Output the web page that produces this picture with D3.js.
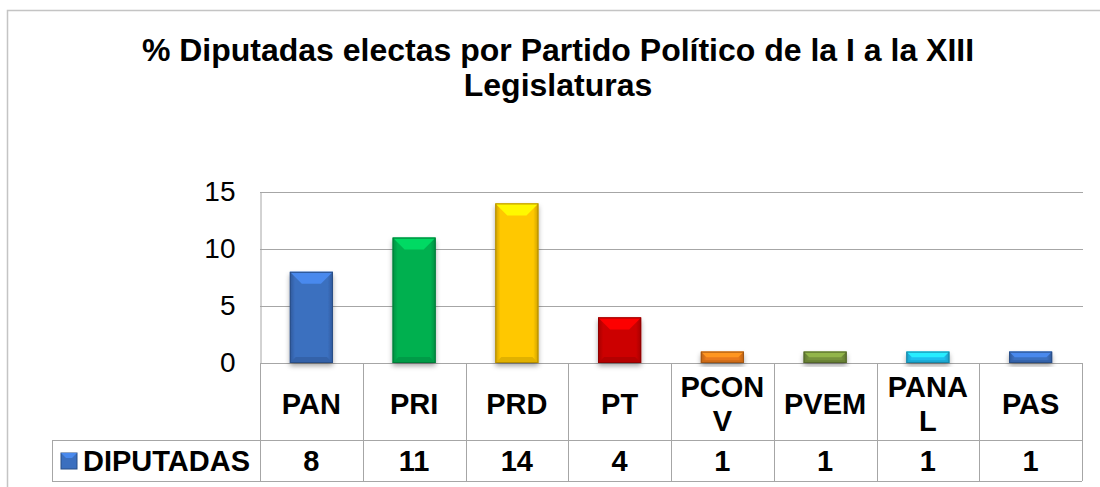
<!DOCTYPE html>
<html>
<head>
<meta charset="utf-8">
<script src="https://cdn.jsdelivr.net/npm/d3@7"></script>
<style>
  body { margin: 0; background: #fff; }
  text { font-family: "Liberation Sans", Arial, sans-serif; fill: #000; }
</style>
</head>
<body>
<div id="chart"></div>
<script>
// chart data
var parties = ['PAN', 'PRI', 'PRD', 'PT', 'PCONV', 'PVEM', 'PANAL', 'PAS'];
var partyLabels = [['PAN'], ['PRI'], ['PRD'], ['PT'], ['PCON', 'V'], ['PVEM'], ['PANA', 'L'], ['PAS']];
var diputadas = [8, 11, 14, 4, 1, 1, 1, 1];
var barColors = ['#3b6fbf', '#00b050', '#ffc800', '#cc0000', '#e8791a', '#76923c', '#1fbfee', '#3b6fbf'];
var yTicks = [0, 5, 10, 15];
var seriesName = 'DIPUTADAS';
var titleLines = ['% Diputadas electas por Partido Político de la I a la XIII', 'Legislaturas'];

var w = 1100, h = 487;
var plotLeft = 260, plotRight = 1082, plotTop = 192, zero = 363;
var catRowBottom = 440, tableBottom = 481, legendLeft = 52;

var svg = d3.select('#chart').append('svg')
  .attr('width', w).attr('height', h);

var defs = svg.append('defs');
var shadow = defs.append('filter').attr('id', 'shadow')
  .attr('x', '-30%').attr('y', '-30%').attr('width', '160%').attr('height', '160%');
shadow.append('feDropShadow').attr('dx', 0).attr('dy', 3).attr('stdDeviation', 2.5)
  .attr('flood-color', '#000').attr('flood-opacity', 0.35);

// outer frame
svg.append('rect')
  .attr('x', 7.5).attr('y', 10.5).attr('width', 1200).attr('height', 600)
  .attr('fill', 'none').attr('stroke', '#c4c4c4').attr('stroke-width', 1.5);

// title
svg.selectAll('.title').data(titleLines).enter().append('text')
  .attr('class', 'title')
  .attr('x', 558).attr('y', function(d, i) { return 61 + i * 35; })
  .attr('text-anchor', 'middle')
  .style('font-size', '32px').style('font-weight', 'bold')
  .text(function(d) { return d; });

// scales
var x = d3.scaleBand().domain(parties).range([plotLeft, plotRight]).paddingInner(0.58).paddingOuter(0.29);
var col = d3.scaleBand().domain(parties).range([plotLeft, plotRight]).padding(0);
var y = d3.scaleLinear().domain([0, 15]).range([zero, plotTop]);

// gridlines
svg.append('g').selectAll('line').data(yTicks).enter().append('line')
  .attr('x1', plotLeft).attr('x2', plotRight + 1)
  .attr('y1', function(d) { return Math.round(y(d)) + 0.5; })
  .attr('y2', function(d) { return Math.round(y(d)) + 0.5; })
  .attr('stroke', '#a6a6a6').attr('stroke-width', 1);

// y axis labels
var yAxis = svg.append('g')
  .attr('transform', 'translate(' + (plotLeft + 0.5) + ',0)')
  .call(d3.axisLeft(y).tickValues(yTicks).tickSize(0).tickPadding(25));
yAxis.select('.domain').attr('stroke', '#a6a6a6');
yAxis.selectAll('text').style('font-size', '28px')
  .style('font-family', '"Liberation Sans", Arial, sans-serif').attr('fill', '#000');

// bars with bevel
var bars = svg.append('g').selectAll('g').data(parties).enter().append('g');
bars.each(function(p, i) {
  var g = d3.select(this);
  var c = d3.color(barColors[i]);
  var x0 = x(p), bw = x.bandwidth();
  var y0 = y(diputadas[i]), bh = zero - y0;
  var bev = Math.min(12, bh / 2);
  var gid = 'grad' + i;
  var grad = defs.append('linearGradient').attr('id', gid)
    .attr('x1', 0).attr('y1', 0).attr('x2', 1).attr('y2', 0);
  grad.append('stop').attr('offset', '0%').attr('stop-color', c.darker(0.6));
  grad.append('stop').attr('offset', '12%').attr('stop-color', c);
  grad.append('stop').attr('offset', '88%').attr('stop-color', c);
  grad.append('stop').attr('offset', '100%').attr('stop-color', c.darker(0.6));
  g.append('rect')
    .attr('x', x0).attr('y', y0).attr('width', bw).attr('height', bh)
    .attr('fill', 'url(#' + gid + ')')
    .attr('filter', 'url(#shadow)');
  // top bevel
  g.append('path')
    .attr('d', 'M' + x0 + ',' + y0 + 'L' + (x0 + bw) + ',' + y0 +
      'L' + (x0 + bw - bev) + ',' + (y0 + bev) + 'L' + (x0 + bev) + ',' + (y0 + bev) + 'Z')
    .attr('fill', c.brighter(0.6));
  // bottom bevel
  g.append('path')
    .attr('d', 'M' + x0 + ',' + zero + 'L' + (x0 + bw) + ',' + zero +
      'L' + (x0 + bw - bev / 2) + ',' + (zero - bev / 2) + 'L' + (x0 + bev / 2) + ',' + (zero - bev / 2) + 'Z')
    .attr('fill', c.darker(0.35));
  g.append('rect')
    .attr('x', x0 + 0.5).attr('y', y0 + 0.5).attr('width', bw - 1).attr('height', bh - 1)
    .attr('fill', 'none').attr('stroke', c.darker(1)).attr('stroke-width', 1);
});

// data table
var table = svg.append('g').attr('stroke', '#a6a6a6').attr('stroke-width', 1);
var colEdges = parties.map(function(p) { return col(p); }).concat([plotRight]);
table.selectAll('.v').data(colEdges).enter().append('line')
  .attr('x1', function(d) { return Math.round(d) + 0.5; })
  .attr('x2', function(d) { return Math.round(d) + 0.5; })
  .attr('y1', zero).attr('y2', tableBottom);
table.append('line').attr('x1', legendLeft).attr('x2', plotRight)
  .attr('y1', catRowBottom + 0.5).attr('y2', catRowBottom + 0.5);
table.append('line').attr('x1', legendLeft).attr('x2', plotRight)
  .attr('y1', tableBottom + 0.5).attr('y2', tableBottom + 0.5);
table.append('line').attr('x1', legendLeft + 0.5).attr('x2', legendLeft + 0.5)
  .attr('y1', catRowBottom).attr('y2', tableBottom);

// category labels
var cats = svg.append('g').selectAll('text').data(parties).enter().append('text')
  .attr('text-anchor', 'middle')
  .style('font-size', '29px').style('font-weight', 'bold')
  .attr('x', function(d) { return col(d) + col.bandwidth() / 2; })
  .attr('y', function(d, i) { return partyLabels[i].length > 1 ? 397 : 414; });
cats.each(function(d, i) {
  var t = d3.select(this);
  partyLabels[i].forEach(function(line, j) {
    t.append('tspan').attr('x', t.attr('x')).attr('dy', j === 0 ? 0 : 34).text(line);
  });
});

// values row
svg.append('g').selectAll('text').data(parties).enter().append('text')
  .attr('text-anchor', 'middle')
  .style('font-size', '29px').style('font-weight', 'bold')
  .attr('x', function(d) { return col(d) + col.bandwidth() / 2; })
  .attr('y', 471)
  .text(function(d, i) { return diputadas[i]; });

// legend key and series name
var key = svg.append('g').attr('transform', 'translate(61,453)');
key.append('rect').attr('width', 16).attr('height', 16).attr('fill', barColors[0])
  .attr('stroke', d3.color(barColors[0]).darker(1));
key.append('path').attr('d', 'M0,0L16,0L11,5L5,5Z').attr('fill', d3.color(barColors[0]).brighter(0.6));
svg.append('text')
  .attr('x', 83).attr('y', 471)
  .style('font-size', '29px').style('font-weight', 'bold')
  .text(seriesName);
</script>
</body>
</html>
